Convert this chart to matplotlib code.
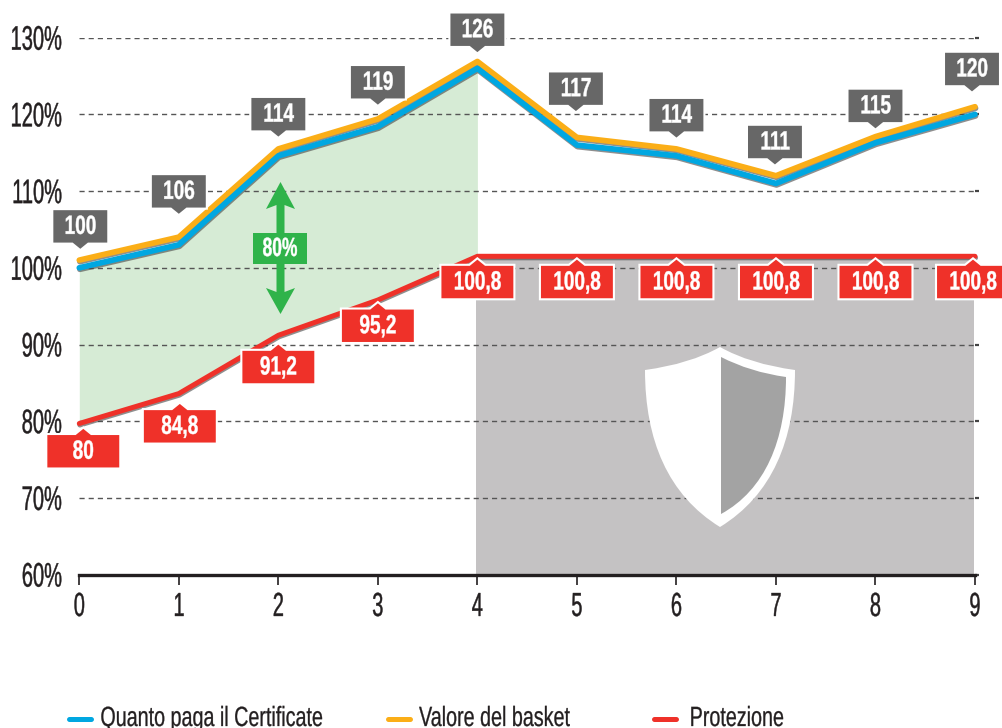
import matplotlib

matplotlib.use('Agg')

import matplotlib.pyplot as plt
import matplotlib.patheffects as pe
from matplotlib.patches import PathPatch, Polygon, Rectangle
from matplotlib.path import Path
from matplotlib.transforms import Affine2D

# data
steps = [0, 1, 2, 3, 4, 5, 6, 7, 8, 9]
certificate = [100, 103, 114.6, 118.4, 126, 116, 114.6, 111, 116.3, 120]
basket = [101, 104, 115.5, 119.4, 126.9, 117, 115.5, 112, 117.1, 121]
protection = [79.7, 83.6, 91.2, 95.8, 101.5, 101.5, 101.5, 101.5, 101.5, 101.5]
basket_labels = ['100', '106', '114', '119', '126', '117', '114', '111', '115', '120']
protection_labels = ['80', '84,8', '91,2', '95,2', '100,8', '100,8', '100,8', '100,8', '100,8', '100,8']
y_ticks = [60, 70, 80, 90, 100, 110, 120, 130]
legend_names = ['Quanto paga il Certificate', 'Valore del basket', 'Protezione']

BLUE = '#00a7e1'
ORANGE = '#fbae17'
RED = '#ef3129'
GREY = '#676767'
GREEN = '#2fb34a'
INK = '#231f20'
FONT = ['Liberation Sans', 'DejaVu Sans']

W, H = 1002, 728


class Squeeze(pe.AbstractPathEffect):
    # the picture uses a very condensed face, so squeeze the glyphs sideways
    # and thicken them a bit to get the stems back
    def __init__(self, sx, anchor=0.5, stroke=0.0):
        self.sx = sx
        self.anchor = anchor
        self.stroke = stroke

    def draw_path(self, renderer, gc, tpath, affine, rgbFace=None):
        box = tpath.get_extents()
        c = box.x0 + box.width * self.anchor
        squeeze = Affine2D().translate(-c, 0).scale(self.sx, 1).translate(c, 0)
        gc0 = renderer.new_gc()
        gc0.copy_properties(gc)
        gc0.set_foreground(rgbFace)
        gc0.set_linewidth(self.stroke)
        renderer.draw_path(gc0, tpath, squeeze + affine, rgbFace)
        gc0.restore()


fig = plt.figure(figsize=(W / 100, H / 100), dpi=100)
ax = fig.add_axes([79.3 / W, (H - 574.6) / H, (975 - 79.3) / W, (574.6 - 37.7) / H])
ax.set_xlim(0, 9)
ax.set_ylim(60, 130)
for s in ['top', 'left', 'right']:
    ax.spines[s].set_visible(False)
ax.spines['bottom'].set_linewidth(2.4)
ax.spines['bottom'].set_color(INK)
ax.spines['bottom'].set_zorder(4)

ax.set_axisbelow(True)
ax.yaxis.grid(True, color='#555555', linewidth=1, linestyle=(0, (3.7, 2.9)))
ax.set_xticks(steps)
ax.set_yticks(y_ticks)
ax.set_yticklabels([f'{v}%' for v in y_ticks], family=FONT, fontsize=24.5, color=INK,
                   va='center_baseline', path_effects=[Squeeze(0.59, 1, 0.3)])
ax.set_xticklabels([str(v) for v in steps], family=FONT, fontsize=24, color=INK,
                   path_effects=[Squeeze(0.6, 0.5, 0.3)])
ax.tick_params(axis='y', left=False, right=True, length=3, width=1.6, color='#444444', pad=9)
ax.tick_params(axis='x', length=7.5, width=1.2, color=INK, pad=5)

ax.fill_between(steps[:5], certificate[:5], protection[:5], color='#d6ebd5', linewidth=0, zorder=0.4)
# the grey block sits a touch left of the axis positions in the reference
nudge = ax.transData + Affine2D().translate(-1.5, 0)
ax.fill_between(steps[4:], protection[4:], 60, color='#c4c2c3', linewidth=0, zorder=0.4, transform=nudge)

shadow = [pe.SimpleLineShadow(offset=(0.4, -1.1), shadow_color='#444444', alpha=0.6), pe.Normal()]
for values, colour, width, order in [(basket, ORANGE, 4.1, 2), (certificate, BLUE, 4.1, 2.1),
                                     (protection, RED, 3.6, 2.2)]:
    ax.plot(steps, values, color=colour, linewidth=width, solid_capstyle='round',
            solid_joinstyle='round', path_effects=shadow, zorder=order, clip_on=False)

# pixel space with the origin at the top left, like the reference
to_px = Affine2D().scale(1, -1).translate(0, H)
fig.canvas.draw()


def data_to_px(x, y):
    px, py = ax.transData.transform((x, y))
    return px, H - py


def add_callout(x, y, text, colour, width, above):
    # box with a small pointer, tip at x,y
    sign = -1 if above else 1
    near = y + sign * 6.5
    far = y + sign * 41
    left, right = x - width / 2 - 1, x + width / 2 + 1
    pts = [(x, y), (x + 8, near), (right, near), (right, far), (left, far), (left, near), (x - 8, near)]
    ax.add_patch(Polygon(pts, closed=True, facecolor=colour, edgecolor='white', linewidth=1.5,
                         transform=to_px, zorder=6, clip_on=False))
    ax.text(x, (near + far) / 2 + 0.5, text, transform=to_px, ha='center', va='center',
            family=FONT, fontweight='bold', fontsize=19, color='white', zorder=7,
            path_effects=[Squeeze(0.72, 0.5, 0.3)], clip_on=False)


# gap between the line and the pointer tip differs label by label
basket_gaps = [10, 22, 11, 13, 8, 25, 10, 10, 7, 14]
basket_shift = [1, 0, 0, 0, 0, -1, 0, -1, 0, -3]
for i, label in enumerate(basket_labels):
    px, py = data_to_px(steps[i], basket[i])
    add_callout(px + basket_shift[i], py - basket_gaps[i], label, GREY, 54, True)

protection_gaps = [4, 9, 8, 2, 2, 2, 2, 2, 2, 2]
protection_shift = [4, 1, 0, 0, 0, 0, 0, 0, 0, -2]
for i, label in enumerate(protection_labels):
    px, py = data_to_px(steps[i], protection[i])
    add_callout(px + protection_shift[i], py + protection_gaps[i], label, RED, 72, False)

# shield
outer = Path([(720, 347), (690, 364), (645, 370), (645, 440), (668, 495), (720, 527),
              (772, 495), (795, 440), (795, 370), (750, 364), (720, 347), (720, 347)],
             [Path.MOVETO, Path.CURVE3, Path.CURVE3, Path.CURVE4, Path.CURVE4, Path.CURVE4,
              Path.CURVE4, Path.CURVE4, Path.CURVE4, Path.CURVE3, Path.CURVE3, Path.CLOSEPOLY])
inner = Path([(721, 357), (750, 372), (786, 377), (786, 440), (765, 490), (721, 514), (721, 357)],
             [Path.MOVETO, Path.CURVE3, Path.CURVE3, Path.CURVE4, Path.CURVE4, Path.CURVE4, Path.CLOSEPOLY])
ax.add_patch(PathPatch(outer, facecolor='white', edgecolor='none', transform=to_px, zorder=3))
ax.add_patch(PathPatch(inner, facecolor='#a3a3a3', edgecolor='none', transform=to_px, zorder=3.1))

# green double arrow with the 80% tag
arrow = [(280.5, 182), (295, 209), (284.5, 205), (284.5, 292), (295, 288), (280.5, 314),
         (266, 288), (276.5, 292), (276.5, 205), (266, 209)]
ax.add_patch(Polygon(arrow, closed=True, facecolor=GREEN, edgecolor='none', transform=to_px, zorder=5))
ax.add_patch(Rectangle((253, 233), 54, 31, facecolor=GREEN, edgecolor='none', transform=to_px, zorder=5))
ax.text(280, 249, '80%', transform=to_px, ha='center', va='center', family=FONT,
        fontweight='bold', fontsize=19, color='white', zorder=6, path_effects=[Squeeze(0.66, 0.5, 0.3)])

# legend
legend_colours = [BLUE, ORANGE, RED]
legend_lines = [67, 386, 652]
legend_texts = [100, 419, 689]
for name, colour, lx, tx in zip(legend_names, legend_colours, legend_lines, legend_texts):
    ax.plot([lx + 2, lx + 24], [719, 719], color=colour, linewidth=3.6, solid_capstyle='round',
            transform=to_px, clip_on=False)
    ax.text(tx, 726, name, transform=to_px, ha='left', va='baseline', family=FONT, fontsize=20,
            color=INK, path_effects=[Squeeze(0.71, 0, 0.2)], clip_on=False)

fig.savefig('out.png', dpi=100)
